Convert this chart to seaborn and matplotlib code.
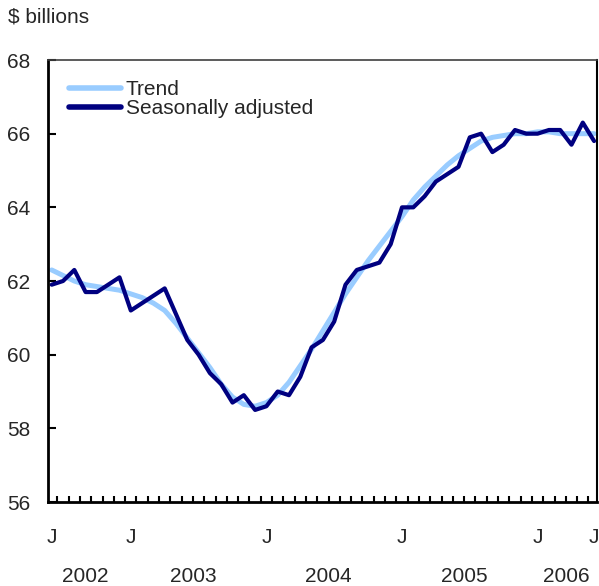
import matplotlib
matplotlib.use('Agg')
import matplotlib.pyplot as plt
import matplotlib.transforms as mtransforms
import seaborn as sns
import pandas as pd
import numpy as np

# monthly values, June 2002 - June 2006 ($ billions)
months = pd.date_range('2002-06-01', '2006-06-01', freq='MS')
seas_adj = [61.9, 62.0, 62.3, 61.7, 61.7, 61.9, 62.1, 61.2, 61.4, 61.6,
            61.8, 61.1, 60.4, 60.0, 59.5, 59.2, 58.7, 58.9, 58.5, 58.6,
            59.0, 58.9, 59.4, 60.2, 60.4, 60.9, 61.9, 62.3, 62.4, 62.5,
            63.0, 64.0, 64.0, 64.3, 64.7, 64.9, 65.1, 65.9, 66.0, 65.5,
            65.7, 66.1, 66.0, 66.0, 66.1, 66.1, 65.7, 66.3, 65.8]
trend = [62.3, 62.15, 62.0, 61.9, 61.85, 61.8, 61.75, 61.65, 61.55, 61.4,
         61.2, 60.85, 60.45, 60.05, 59.65, 59.2, 58.85, 58.65, 58.6, 58.7,
         58.9, 59.25, 59.7, 60.15, 60.65, 61.15, 61.65, 62.1, 62.55, 62.95,
         63.35, 63.75, 64.2, 64.55, 64.85, 65.15, 65.4, 65.6, 65.8, 65.9,
         65.95, 66.0, 66.0, 66.05, 66.05, 66.0, 66.0, 66.0, 66.0]
y_ticks = [56, 58, 60, 62, 64, 66, 68]

df = pd.DataFrame({'idx': np.arange(len(months)), 'month': months,
                   'Trend': trend, 'Seasonally adjusted': seas_adj})

sns.set_theme(style='white')
plt.rcParams['font.family'] = ['Liberation Sans', 'DejaVu Sans']
fs = 15

fig = plt.figure(figsize=(5.99, 5.86), dpi=100)
ax = fig.add_axes([0.0801, 0.1433, 0.9166, 0.7543])

sns.lineplot(data=df, x='idx', y='Trend', color='#99ccff', lw=3.6,
             label='Trend', ax=ax)
sns.lineplot(data=df, x='idx', y='Seasonally adjusted', color='#000080',
             lw=3.0, label='Seasonally adjusted', ax=ax)

ax.set_xlim(-0.33, len(months) - 1 + 0.26)
ax.set_ylim(56, 68)
ax.set_yticks(y_ticks)
ax.set_xlabel('')
ax.set_ylabel('')

# J labels: first month, each January, last month
jt = [i for i, m in enumerate(months)
      if m.month == 1 or i == 0 or i == len(months) - 1]
ax.set_xticks(jt)
ax.set_xticklabels(['J'] * len(jt))
ax.set_xticks(np.arange(len(months) - 1) + 0.5, minor=True)
ax.tick_params(axis='x', which='major', direction='in', length=0, pad=19,
               labelsize=fs)
ax.tick_params(axis='x', which='minor', direction='in', length=4, width=1.5,
               color='black', bottom=True)
ax.tick_params(axis='y', direction='in', length=6, width=1.5, color='black',
               left=True, pad=13, labelsize=fs)

for s in ['left', 'bottom']:
    ax.spines[s].set_color('black')
    ax.spines[s].set_linewidth(2)
ax.spines['right'].set_color('black')
ax.spines['right'].set_linewidth(1.5)
ax.spines['top'].set_color('#404040')
ax.spines['top'].set_linewidth(1.2)

# year labels under the J's
trans = mtransforms.blended_transform_factory(ax.transData, ax.transAxes)
years = df.groupby(df.month.dt.year)['idx'].mean()
for yr, pos in years.items():
    ax.text(pos, -0.168, str(yr), transform=trans, ha='center', va='center',
            fontsize=fs)

fig.text(8 / 599, 1 - 17 / 586, '$ billions', ha='left', va='center',
         fontsize=fs)

leg = ax.legend(loc='upper left', bbox_to_anchor=(0.024, 0.973), frameon=False,
                fontsize=fs, handlelength=2.45, handletextpad=0.25,
                labelspacing=0.0, borderaxespad=0)
for line in leg.get_lines():
    line.set_linewidth(4)

fig.savefig('out.png', dpi=100)
